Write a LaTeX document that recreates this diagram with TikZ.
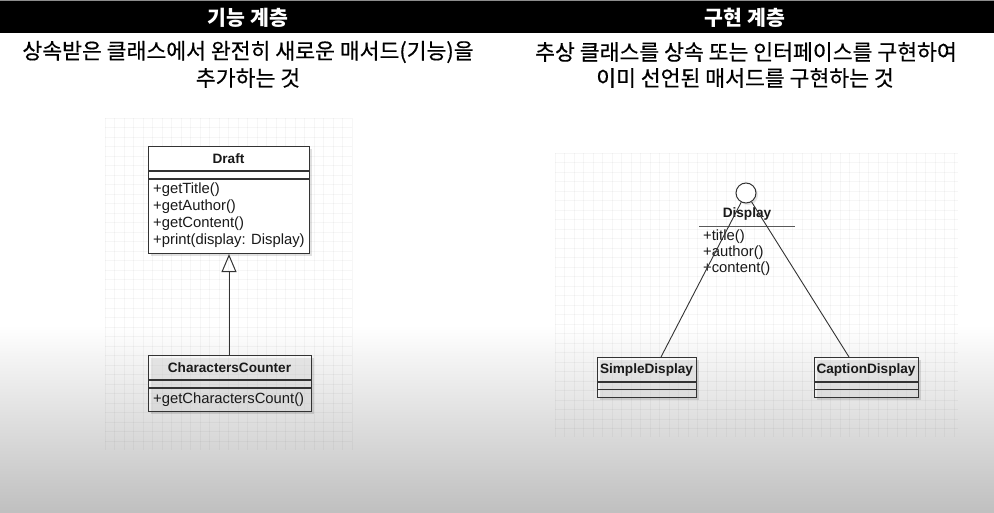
\documentclass[tikz,border=0pt]{standalone}
\usepackage{fontspec}
\setmainfont{Liberation Sans}
\newfontfamily\kr{Noto Sans CJK KR}
\newfontfamily\krsub[FakeBold=0.5]{Noto Sans CJK KR}
\usetikzlibrary{arrows.meta,shadows}
\tikzset{
  boxline/.style={draw=black!80, line width=1.1pt},
  cls/.style={boxline, rectangle, inner sep=0pt, anchor=north west,
    drop shadow={shadow xshift=2.5pt, shadow yshift=-2.5pt, fill=black, opacity=0.12}},
  clsname/.style={font=\fontsize{13.6}{16}\selectfont\bfseries, text=black!90, inner sep=0pt},
  meth/.style={font=\fontsize{14.8}{17}\selectfont, text=black!90, anchor=west, inner sep=0pt},
  head/.style={font=\kr\fontsize{20.5}{24}\selectfont\bfseries, text=white, inner sep=0pt},
  sub/.style={font=\krsub\fontsize{21.6}{25}\selectfont, text=black, inner sep=0pt},
  gridline/.style={draw=black, draw opacity=0.035, line width=0.5pt},
  conn/.style={draw=black!80, line width=0.9pt}
}
\begin{document}
\begin{tikzpicture}[x=1pt,y=-1pt]
\useasboundingbox (0,0) rectangle (994,513);
% background
\fill[white] (0,0) rectangle (994,513);
\shade[top color=white, middle color=black!13, bottom color=black!25] (0,325) rectangle (994,513);
% grids
\foreach \gx in {105,114.5,...,352} {\draw[gridline] (\gx,118) -- (\gx,450);}
\foreach \gy in {118,127.5,...,450} {\draw[gridline] (105,\gy) -- (352,\gy);}
\foreach \gx in {555,564.5,...,958} {\draw[gridline] (\gx,153) -- (\gx,437);}
\foreach \gy in {153,162.5,...,437} {\draw[gridline] (555,\gy) -- (958,\gy);}
% header
\fill[black] (0,0) rectangle (994,33);
\fill[black!45] (0,0) rectangle (994,1.5);
\node[head] (h1) at (248,18) {기능 계층};
\node[head] (h2) at (745,18) {구현 계층};
\node[sub] (s1a) at (248,52) {상속받은 클래스에서 완전히 새로운 매서드(기능)을};
\node[sub] (s1b) at (248,78) {추가하는 것};
\node[sub] (s2a) at (746,52) {추상 클래스를 상속 또는 인터페이스를 구현하여};
\node[sub] (s2b) at (745,78) {이미 선언된 매서드를 구현하는 것};

% ---- left diagram
\node[cls, fill=white, minimum width=161pt, minimum height=107pt] (draft) at (148,146) {};
\draw[boxline] (draft.west |- 0,171) -- (draft.east |- 0,171);
\draw[boxline] (draft.west |- 0,179) -- (draft.east |- 0,179);
\node[clsname] (draftname) at (228.5,158.5) {Draft};
\node[meth] (m1) at (153,190) {+getTitle()};
\node[meth] (m2) at (153,207) {+getAuthor()};
\node[meth] (m3) at (153,224) {+getContent()};
\node[meth] (m4) at (153,241) {+print(display: Display)};

\node[cls, fill=white, fill opacity=0.35, minimum width=163pt, minimum height=56pt] (cc) at (148,355) {};
\draw[boxline] (cc.west |- 0,380) -- (cc.east |- 0,380);
\draw[boxline] (cc.west |- 0,388) -- (cc.east |- 0,388);
\node[clsname] (ccname) at (229.5,367.5) {CharactersCounter};
\node[meth] (cm1) at (153,399.5) {+getCharactersCount()};

\draw[conn, -{Triangle[open, length=18pt, width=15pt, line width=1pt]}] (cc.north -| 229,0) -- (draft.south -| 229,0);

% ---- right diagram
\node[circle, draw=black!80, line width=1pt, fill=white, minimum size=20pt, inner sep=0pt,
  drop shadow={shadow xshift=2pt, shadow yshift=-2pt, fill=black, opacity=0.10}] (iface) at (746,193) {};
\node[clsname] (dispname) at (747,214) {Display};
\draw[draw=black!65, line width=1pt] (699,227) -- (795,227);
\node[meth] (d1) at (703,237) {+title()};
\node[meth] (d2) at (703,253) {+author()};
\node[meth] (d3) at (703,269) {+content()};

\node[cls, fill=white, fill opacity=0.35, minimum width=99pt, minimum height=40pt] (sd) at (597,357) {};
\draw[boxline] (sd.west |- 0,382) -- (sd.east |- 0,382);
\draw[boxline] (sd.west |- 0,389.5) -- (sd.east |- 0,389.5);
\node[clsname] (sdname) at (646.5,369.5) {SimpleDisplay};

\node[cls, fill=white, fill opacity=0.35, minimum width=104pt, minimum height=40pt] (cd) at (814,357) {};
\draw[boxline] (cd.west |- 0,382) -- (cd.east |- 0,382);
\draw[boxline] (cd.west |- 0,389.5) -- (cd.east |- 0,389.5);
\node[clsname] (cdname) at (866,369.5) {CaptionDisplay};

\coordinate (sdtop) at (661,357);
\coordinate (cdtop) at (849,357);
\draw[conn] (iface) -- (sdtop);
\draw[conn] (iface) -- (cdtop);
\end{tikzpicture}
\end{document}
